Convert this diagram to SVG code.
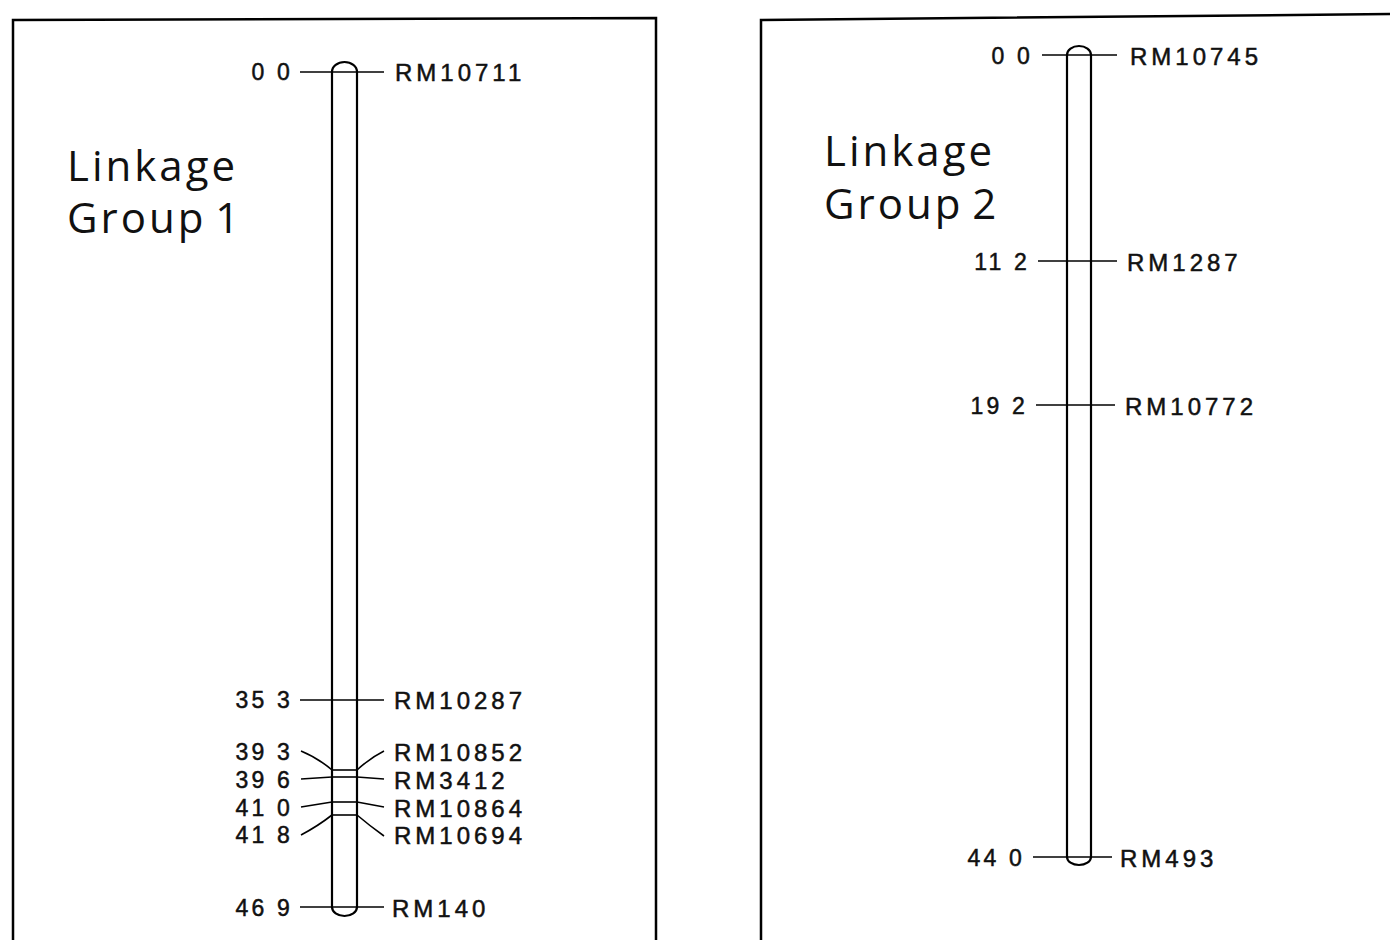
<svg xmlns="http://www.w3.org/2000/svg" width="1390" height="940" viewBox="0 0 1390 940">
<style>
.frame{fill:none;stroke:#000;stroke-width:2.5}
.chr{fill:#fff;stroke:#000;stroke-width:2.2}
.tk{stroke:#000;stroke-width:1.6;fill:none}
.lab{font-family:"Liberation Sans",Arial,sans-serif;font-size:23px;letter-spacing:3.2px;fill:#111;stroke:#111;stroke-width:0.5}
.rm{font-size:24px;letter-spacing:4px}
.r{text-anchor:end}
.title{font-family:"Open Sans","Noto Sans",sans-serif;font-size:42px;letter-spacing:3px;word-spacing:-5px;fill:#111}
</style>
<rect width="1390" height="940" fill="#fff"/>
<g id="frames">
<path class="frame" d="M13,945 L13,20 L656,18 L656,945"/>
<path class="frame" d="M761,945 L761,20 L1395,14"/>
</g>
<g id="group1">
<text class="title" x="67" y="181">Linkage</text>
<text class="title" x="67" y="233">Group 1</text>
<path id="chr1" class="chr" d="M332,72 A12.5,10 0 0 1 357,72 L357,907 A12.5,9 0 0 1 332,907 Z"/>
</g>
<g id="group2">
<text class="title" x="824" y="166">Linkage</text>
<text class="title" x="824" y="219">Group 2</text>
<path id="chr2" class="chr" d="M1067,55 A12,9 0 0 1 1091,55 L1091,857 A12,8 0 0 1 1067,857 Z"/>
</g>
<g id="connectors">
<line class="tk" x1="300" y1="72" x2="384" y2="72"/>
<line class="tk" x1="300" y1="700" x2="384" y2="700"/>
<line class="tk" x1="300" y1="907" x2="384" y2="907"/>
<line class="tk" x1="332" y1="770" x2="357" y2="770"/>
<line class="tk" x1="332" y1="777" x2="357" y2="777"/>
<line class="tk" x1="332" y1="802" x2="357" y2="802"/>
<line class="tk" x1="332" y1="815" x2="357" y2="815"/>
<path class="tk" d="M301,751 Q318,758 332,770"/>
<path class="tk" d="M301,779 L332,777"/>
<path class="tk" d="M301,807 L332,802"/>
<path class="tk" d="M301,835 Q318,826 332,815"/>
<path class="tk" d="M357,770 Q370,758 384,751"/>
<path class="tk" d="M357,777 L384,779"/>
<path class="tk" d="M357,802 L384,807"/>
<path class="tk" d="M357,815 Q370,826 384,836"/>
<line class="tk" x1="1042" y1="55" x2="1117" y2="55"/>
<line class="tk" x1="1038" y1="261" x2="1117" y2="261"/>
<line class="tk" x1="1036" y1="405" x2="1115" y2="405"/>
<line class="tk" x1="1033" y1="857" x2="1112" y2="857"/>
</g>
<g id="labels1">
<text class="lab r" x="293" y="80">0 0</text>
<text class="lab rm" x="395" y="81">RM10711</text>
<text class="lab r" x="293" y="708">35 3</text>
<text class="lab rm" x="394" y="709">RM10287</text>
<text class="lab r" x="293" y="760">39 3</text>
<text class="lab rm" x="394" y="761">RM10852</text>
<text class="lab r" x="293" y="788">39 6</text>
<text class="lab rm" x="394" y="789">RM3412</text>
<text class="lab r" x="293" y="816">41 0</text>
<text class="lab rm" x="394" y="817">RM10864</text>
<text class="lab r" x="293" y="843">41 8</text>
<text class="lab rm" x="394" y="844">RM10694</text>
<text class="lab r" x="293" y="916">46 9</text>
<text class="lab rm" x="392" y="917">RM140</text>
</g>
<g id="labels2">
<text class="lab r" x="1033" y="64">0 0</text>
<text class="lab rm" x="1130" y="65">RM10745</text>
<text class="lab r" x="1030" y="270">11 2</text>
<text class="lab rm" x="1127" y="271">RM1287</text>
<text class="lab r" x="1028" y="414">19 2</text>
<text class="lab rm" x="1125" y="415">RM10772</text>
<text class="lab r" x="1025" y="866">44 0</text>
<text class="lab rm" x="1120" y="867">RM493</text>
</g>
</svg>
